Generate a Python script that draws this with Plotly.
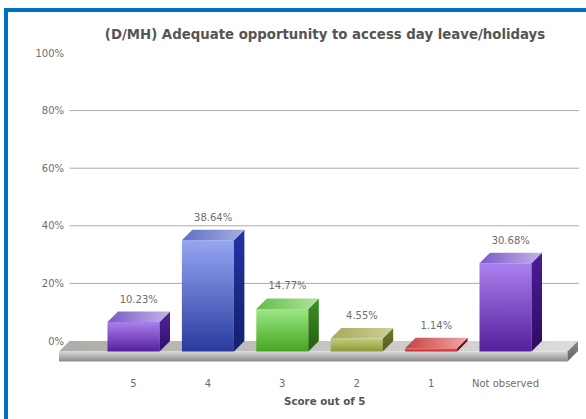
import plotly.graph_objects as go

# Survey results
categories = ["5", "4", "3", "2", "1", "Not observed"]
percentages = [10.23, 38.64, 14.77, 4.55, 1.14, 30.68]
tick_values = [0, 20, 40, 60, 80, 100]
grid_values = [20, 40, 60, 80]

W, H = 586, 419
PLOT_L, PLOT_R, PLOT_T, PLOT_B = 59, 579, 53, 362
UNIT_X = 74.4          # pixels per category
UNIT_Y = 2.88          # pixels per percentage point
X0_PX = 133.5          # pixel position of the first category's front centre
DEPTH_X = 10.5 / UNIT_X
DEPTH_Y = 10.5 / UNIT_Y
BAR_W = 52 / UNIT_X
SLAB_H = 10 / UNIT_Y

# One (front top, front bottom, side top, side bottom, roof left, roof right) set per bar
bar_palettes = [
    ("#ab80ee", "#54209c", "#54249e", "#2e0e68", "#7c58c8", "#c4b4e8"),
    ("#95a6f4", "#2a3a9e", "#2434a4", "#141f6e", "#5f6fc4", "#a6aee2"),
    ("#9ce884", "#46a422", "#3f9024", "#215f12", "#66bc4a", "#b0e49c"),
    ("#c4cc7c", "#8c9a38", "#747a2c", "#565c1c", "#a4aa5a", "#cdd098"),
    ("#f26464", "#c42424", "#8a1414", "#5c0a0a", "#c64040", "#f2a8a8"),
    ("#ab80ee", "#54209c", "#4c1c9a", "#2c0c62", "#7c58c8", "#c4b4e8"),
]

TEXT = "#6e6e6e"
FONT = "DejaVu Sans"

fig = go.Figure()


def face(xs, ys, scale, kind="vertical", start=None, stop=None):
    fig.add_trace(go.Scatter(
        x=xs + xs[:1], y=ys + ys[:1], mode="lines", line=dict(width=0),
        fill="toself", hoverinfo="skip", showlegend=False,
        fillgradient=dict(type=kind, colorscale=[[0, scale[0]], [1, scale[1]]],
                          start=start, stop=stop),
    ))


fl = (59 - X0_PX) / UNIT_X
fr = (567.5 - X0_PX) / UNIT_X
base = -DEPTH_Y

# Gridlines sit on the back wall, so they start behind the floor's left corner
for level in grid_values:
    fig.add_trace(go.Scatter(
        x=[fl + DEPTH_X, (PLOT_R - X0_PX) / UNIT_X], y=[level, level], mode="lines",
        line=dict(color="#aaaaaa", width=1), hoverinfo="skip", showlegend=False,
    ))

# Floor slab under the bars
face([fl, fl + DEPTH_X, fr + DEPTH_X, fr], [base, 0, 0, base],
     ("#aeaca8", "#dcdcdc"), "horizontal", fl, fr + DEPTH_X)
face([fl, fr, fr, fl], [base, base, base - SLAB_H, base - SLAB_H],
     ("#8a8a8a", "#d8d8d8"), "vertical", base - SLAB_H, base)
face([fr, fr + DEPTH_X, fr + DEPTH_X, fr], [base, 0, -SLAB_H, base - SLAB_H],
     ("#666666", "#888888"), "vertical", base - SLAB_H, 0)

# Extruded bars: each value sets the height of the roof's back edge
for i, value in enumerate(percentages):
    pal = bar_palettes[i]
    left, right = i - BAR_W / 2, i + BAR_W / 2
    top = value - DEPTH_Y
    face([left, right, right, left], [base, base, top, top],
         (pal[1], pal[0]), "vertical", base, top)
    face([right, right + DEPTH_X, right + DEPTH_X, right], [base, 0, value, top],
         (pal[3], pal[2]), "vertical", base, value)
    face([left, right, right + DEPTH_X, left + DEPTH_X], [top, top, value, value],
         (pal[4], pal[5]), "horizontal", left, right + DEPTH_X)

# Value labels above each bar
fig.add_trace(go.Scatter(
    x=[i + 0.07 for i in range(len(percentages))],
    y=[v + 4.0 for v in percentages],
    mode="text",
    text=[f"{v:.2f}%" for v in percentages],
    textposition="middle center",
    textfont=dict(family=FONT, size=10, color=TEXT),
    hoverinfo="skip", showlegend=False,
))


def px_x(p):
    return (p - PLOT_L) / (PLOT_R - PLOT_L)


def px_y(p):
    return (PLOT_B - p) / (PLOT_B - PLOT_T)


BLUE = "#0070c0"
border = [
    dict(x0=4, x1=8, y0=8, y1=H + 10),
    dict(x0=4, x1=W + 10, y0=8, y1=12),
]
shapes = [
    dict(type="rect", xref="paper", yref="paper", layer="above",
         x0=px_x(b["x0"]), x1=px_x(b["x1"]), y0=px_y(b["y0"]), y1=px_y(b["y1"]),
         fillcolor=BLUE, line=dict(width=0))
    for b in border
]

fig.update_layout(
    width=W, height=H,
    margin=dict(l=PLOT_L, r=W - PLOT_R, t=PLOT_T, b=H - PLOT_B, autoexpand=False),
    paper_bgcolor="white", plot_bgcolor="white",
    font=dict(family=FONT, size=10, color=TEXT),
    title=dict(
        text="<b>(D/MH) Adequate opportunity to access day leave/holidays</b>",
        font=dict(family=FONT, size=13.3, color="#555555"),
        x=325 / W, xanchor="center", xref="container",
        y=1 - 34 / H, yanchor="middle", yref="container",
    ),
    xaxis=dict(
        range=[(PLOT_L - X0_PX) / UNIT_X, (PLOT_R - X0_PX) / UNIT_X],
        tickmode="array", tickvals=list(range(len(categories))), ticktext=categories,
        showgrid=False, zeroline=False, showline=False, ticks="",
        ticklabelstandoff=14,
        automargin=False,
    ),
    yaxis=dict(
        range=[(PLOT_B - 341) / -UNIT_Y, (341 - PLOT_T) / UNIT_Y],
        tickmode="array", tickvals=tick_values,
        ticktext=[f"{v}%" for v in tick_values],
        showgrid=False, zeroline=False, showline=False, ticks="",
        ticklabelstandoff=-6,
        automargin=False,
    ),
    annotations=[dict(
        text="<b>Score out of 5</b>", showarrow=False,
        xref="paper", yref="paper", x=px_x(324.5), y=px_y(401),
        xanchor="center", yanchor="middle",
        font=dict(family=FONT, size=10.3, color="#555555"),
    )],
    shapes=shapes,
)

fig.write_html("out.html")
